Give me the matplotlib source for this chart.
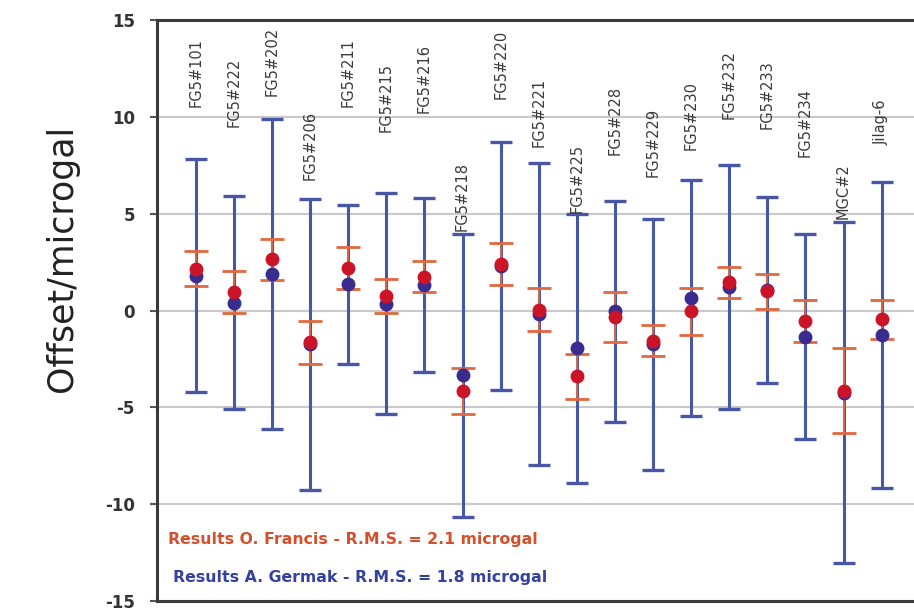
import matplotlib
matplotlib.use("Agg")
import matplotlib.pyplot as plt
import numpy as np

# Instruments compared
instruments = ["FG5#101", "FG5#222", "FG5#202", "FG5#206", "FG5#211", "FG5#215",
               "FG5#216", "FG5#218", "FG5#220", "FG5#221", "FG5#225", "FG5#228",
               "FG5#229", "FG5#230", "FG5#232", "FG5#233", "FG5#234", "MGC#2", "Jilag-6"]

# Offsets (microgal) and uncertainties, A. Germak solution
germak = [1.8, 0.4, 1.9, -1.75, 1.35, 0.35, 1.3, -3.35, 2.3, -0.2, -1.95, -0.05,
          -1.75, 0.65, 1.2, 1.05, -1.35, -4.25, -1.25]
germak_err = [6.0, 5.5, 8.0, 7.5, 4.1, 5.7, 4.5, 7.3, 6.4, 7.8, 6.95, 5.7,
              6.5, 6.1, 6.3, 4.8, 5.3, 8.8, 7.9]

# Offsets (microgal) and uncertainties, O. Francis solution
francis = [2.15, 0.95, 2.65, -1.65, 2.2, 0.75, 1.75, -4.15, 2.4, 0.05, -3.4, -0.35,
           -1.55, -0.05, 1.45, 1.0, -0.55, -4.15, -0.45]
francis_err = [0.9, 1.1, 1.05, 1.1, 1.1, 0.9, 0.8, 1.2, 1.1, 1.1, 1.15, 1.3,
               0.8, 1.2, 0.8, 0.9, 1.1, 2.2, 1.0]

yticks = [-15, -10, -5, 0, 5, 10, 15]

# Vertical position of the bottom of each rotated instrument label
label_base = [10.5, 9.45, 11.05, 6.75, 10.5, 9.2, 10.2, 4.1, 10.9, 8.45, 5.05, 8.05,
              6.9, 8.3, 9.9, 9.35, 7.95, 4.7, 8.55]

x = np.arange(1, len(instruments) + 1)

fig = plt.figure(figsize=(9.14, 6.12), dpi=100)
ax = fig.add_axes([157 / 914, 11 / 612, 1 - 157 / 914 + 0.01, 581 / 612])

ax.set_xlim(-0.02, 19.85 + 0.01 * 914 / 38.1)
ax.set_ylim(-15, 15)

for g in [-10, -5, 0, 5, 10]:
    ax.axhline(g, color="#c9c9c9", lw=1.5, zorder=0)

blue_line = "#4756a6"
blue_dot = "#3a2c8e"
red_line = "#e2683f"
red_dot = "#cc1428"

ax.errorbar(x, germak, yerr=germak_err, fmt="none", ecolor=blue_line,
            elinewidth=2.2, capsize=8.0, capthick=2.4, zorder=2)
ax.errorbar(x, francis, yerr=francis_err, fmt="none", ecolor=red_line,
            elinewidth=1.3, capsize=8.5, capthick=2.0, zorder=3)
ax.plot(x, germak, "o", color=blue_dot, ms=9, mec=blue_dot, zorder=4)
ax.plot(x, francis, "o", color=red_dot, ms=9, mec=red_dot, zorder=5)

for xi, name, yb in zip(x, instruments, label_base):
    ax.text(xi, yb, name, rotation=90, ha="center", va="bottom",
            fontsize=10.5, color="#3a3a3a", family="DejaVu Sans", zorder=6)

ax.text(0.0145, 0.105, "Results O. Francis - R.M.S. = 2.1 microgal",
        transform=ax.transAxes, ha="left", va="center", fontsize=11.3,
        fontweight="bold", color="#d4502c")
ax.text(0.021, 0.0396, "Results A. Germak - R.M.S. = 1.8 microgal",
        transform=ax.transAxes, ha="left", va="center", fontsize=11.3,
        fontweight="bold", color="#3441a0")

ax.set_xticks([])
ax.set_yticks(yticks)
ax.set_yticklabels([str(t) for t in yticks], fontsize=12, fontweight="bold",
                   color="#333333")
ax.tick_params(axis="y", length=5, width=1.5, color="#555555", pad=11)

for side in ["left", "bottom", "top"]:
    ax.spines[side].set_color("#3a3a3a")
    ax.spines[side].set_linewidth(2.2)
ax.spines["right"].set_visible(False)

ax.set_ylabel("Offset/microgal", fontsize=25, color="#222222")
ax.yaxis.set_label_coords(-0.102, 0.59)

fig.savefig("out.png", dpi=100)
